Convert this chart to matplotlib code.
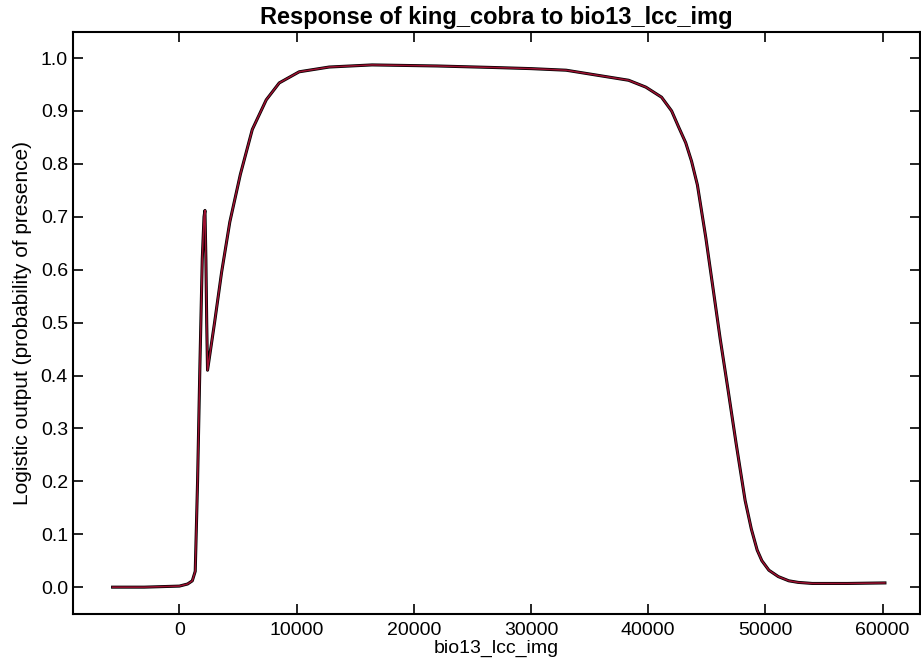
import matplotlib
matplotlib.use("Agg")
import matplotlib.pyplot as plt

# response curve
bio13 = [-5700, -3000, 0, 700, 1100, 1350, 1550, 1750, 1950, 2100, 2180, 2260, 2330, 2400,
         3000, 3600, 4300, 5200, 6220, 7410, 8520, 10220, 12780, 16440,
         22000, 27000, 30000, 33000, 35800, 38330, 39800, 41140, 42000, 42590,
         43200, 43700, 44200, 44920, 45500, 46140, 46800, 47500, 48270, 48800,
         49300, 49700, 50300, 51100, 52000, 52800, 54000, 57000, 60200]
prob = [0.0, 0.0, 0.002, 0.006, 0.012, 0.03, 0.2, 0.42, 0.62, 0.70, 0.712, 0.62, 0.5, 0.41,
        0.5, 0.595, 0.69, 0.78, 0.865, 0.921, 0.953, 0.974, 0.983, 0.987,
        0.985, 0.982, 0.98, 0.977, 0.967, 0.958, 0.945, 0.926, 0.9, 0.87,
        0.84, 0.805, 0.76, 0.66, 0.57, 0.47, 0.375, 0.272, 0.164, 0.11,
        0.07, 0.05, 0.032, 0.02, 0.012, 0.009, 0.007, 0.007, 0.008]

xticks = [0, 10000, 20000, 30000, 40000, 50000, 60000]
yticks = [0.0, 0.1, 0.2, 0.3, 0.4, 0.5, 0.6, 0.7, 0.8, 0.9, 1.0]

plt.rcParams['font.family'] = ['Liberation Sans', 'DejaVu Sans']

fig = plt.figure(figsize=(9.21, 6.69), dpi=100)
ax = fig.add_axes([0.079, 0.082, 0.92, 0.870])

ax.plot(bio13, prob, color='black', lw=2.2, solid_joinstyle='round')
ax.plot(bio13, prob, color='#9c1030', lw=1.1, solid_joinstyle='round')

ax.set_xlim(-9100, 63200)
ax.set_ylim(-0.051, 1.049)
ax.set_xticks(xticks)
ax.set_xticklabels([str(t) for t in xticks])
ax.set_yticks(yticks)
ax.set_yticklabels([f"{t:.1f}" for t in yticks])
ax.tick_params(direction='in', length=7, width=1.2, labelsize=14,
               top=True, right=True)
ax.tick_params(axis='x', labelsize=14, pad=6)
for s in ax.spines.values():
    s.set_linewidth(1.5)

ax.set_title("Response of king_cobra to bio13_lcc_img", fontsize=17, fontweight='bold', pad=6)
ax.set_xlabel("bio13_lcc_img", fontsize=14, labelpad=0)
ax.set_ylabel("Logistic output (probability of presence)", fontsize=15, labelpad=6)

fig.savefig("out.png", dpi=100)
